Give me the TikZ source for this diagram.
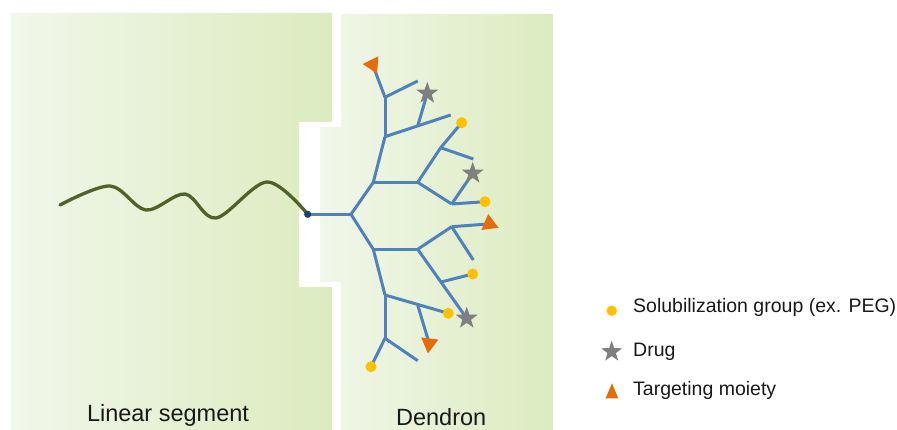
\documentclass[tikz,border=0pt]{standalone}
\usepackage{fontspec}
\setmainfont{Liberation Sans}
\usetikzlibrary{shapes.geometric}
\definecolor{brblue}{HTML}{4F81BD}
\definecolor{tgorange}{HTML}{E46C0A}
\definecolor{solyellow}{HTML}{FFC000}
\definecolor{druggray}{HTML}{7F7F7F}
\definecolor{olive}{HTML}{4F6228}
\definecolor{navydot}{HTML}{1F3F70}
\definecolor{panelL}{HTML}{F1F7EA}
\definecolor{panelR}{HTML}{DCEBBF}
\tikzset{
  br/.style={draw=brblue, line width=3pt},
  solcirc/.style={circle, fill=solyellow, inner sep=0pt, minimum size=11pt},
  drugstar/.style={star, star points=5, star point ratio=2.5, fill=druggray, inner sep=0pt, minimum size=23pt},
  tgtri/.style={regular polygon, regular polygon sides=3, fill=tgorange, inner sep=0pt, minimum size=20pt},
  lbl/.style={font=\fontsize{23.5}{28}\selectfont, inner sep=0pt, anchor=base, text=black!90},
  leg/.style={font=\fontsize{19.5}{24}\selectfont, inner sep=0pt, anchor=base west, text=black!90},
}
\begin{document}
\begin{tikzpicture}[x=1pt, y=-1pt]
\useasboundingbox (0,0) rectangle (897,430);
% panels
\shade[left color=panelL, right color=panelR]
  (11,13) -- (332,13) -- (332,122) -- (299,122) -- (299,287) -- (332,287) -- (332,430) -- (11,430) -- cycle;
\shade[left color=panelL, right color=panelR]
  (341,14) -- (553,14) -- (553,430) -- (341,430) -- (341,282) -- (320,282) -- (320,127) -- (341,127) -- cycle;

% linear segment (wave)
\coordinate (r) at (307.7,214.3);
\draw[olive, line width=3.3pt, line cap=round]
  plot[smooth, tension=0.55] coordinates {(60,205) (110,186) (146,210) (185,194) (216,218) (267,182) (r)};

% dendron coordinates
\coordinate (b0) at (351,214.3);
\coordinate (U) at (373.3,182.3);
\coordinate (U1) at (385,136.7);
\coordinate (U2) at (417.7,182.3);
\coordinate (U11) at (385,97.3);
\coordinate (U11e) at (417.7,81);
\coordinate (U12e) at (450.7,115);
\coordinate (U12b) at (417.7,126);
\coordinate (U21) at (440.7,147.7);
\coordinate (U21e) at (473.3,159);
\coordinate (U22) at (451.7,204);
\coordinate (L) at (373.3,249.3);
\coordinate (L1) at (417.7,249.3);
\coordinate (L2) at (385,295);
\coordinate (L11) at (451.7,226.7);
\coordinate (L11e) at (473.3,260);
\coordinate (L1b) at (441,282);
\coordinate (L2b) at (417.7,305);
\coordinate (L22) at (385,338.3);
\coordinate (L22e) at (417.7,360.7);

% end groups
\coordinate (s1) at (427.3,93.3);
\coordinate (s2) at (472.7,173.3);
\coordinate (s3) at (466.7,318.3);
\coordinate (c1) at (461.7,122.7);
\coordinate (c2) at (485,201.7);
\coordinate (c3) at (472.7,274);
\coordinate (c4) at (448.3,313.3);
\coordinate (c5) at (371,366.7);
\coordinate (t1) at (372.7,64.7);
\coordinate (t2) at (489.4,223.9);
\coordinate (t3) at (429.2,343.5);

% branches
\draw[br] (r) -- (b0);
\draw[br] (b0) -- (U);
\draw[br] (b0) -- (L);
\draw[br] (U) -- (U1);
\draw[br] (U) -- (U2);
\draw[br] (U1) -- (U11);
\draw[br] (U1) -- (U12e);
\draw[br] (U12b) -- (s1);
\draw[br] (U11) -- (t1);
\draw[br] (U11) -- (U11e);
\draw[br] (U2) -- (U21);
\draw[br] (U2) -- (U22);
\draw[br] (U21) -- (c1);
\draw[br] (U21) -- (U21e);
\draw[br] (U22) -- (c2);
\draw[br] (U22) -- (s2);
\draw[br] (L) -- (L1);
\draw[br] (L) -- (L2);
\draw[br] (L1) -- (L11);
\draw[br] (L1) -- (s3);
\draw[br] (L1b) -- (c3);
\draw[br] (L11) -- (t2);
\draw[br] (L11) -- (L11e);
\draw[br] (L2) -- (c4);
\draw[br] (L2b) -- (t3);
\draw[br] (L2) -- (L22);
\draw[br] (L22) -- (c5);
\draw[br] (L22) -- (L22e);

% root dot
\fill[navydot] (r) circle (3.6pt);

% terminal groups
\node[drugstar] (S1) at (s1) {};
\node[drugstar] (S2) at (s2) {};
\node[drugstar] (S3) at (s3) {};
\node[solcirc] (C1) at (c1) {};
\node[solcirc] (C2) at (c2) {};
\node[solcirc] (C3) at (c3) {};
\node[solcirc] (C4) at (c4) {};
\node[solcirc] (C5) at (c5) {};
\node[tgtri, rotate=86] (T1) at (t1) {};
\node[tgtri, rotate=7] (T2) at (t2) {};
\node[tgtri, rotate=173] (T3) at (t3) {};

% labels
\node[lbl] (linlbl) at (168,421) {Linear segment};
\node[lbl] (denlbl) at (441.2,425) {Dendron};

% legend
\node[solcirc, minimum size=10.5pt] (legc) at (611.7,310.7) {};
\node[leg] (legct) at (633,313) {Solubilization group (ex. PEG)};
\node[drugstar, minimum size=22pt] (legs) at (611.7,351.7) {};
\node[leg] (legst) at (633,356) {Drug};
\fill[tgorange] (612,383.3) -- (618.2,398.3) -- (605.6,398.3) -- cycle;
\node[leg] (legtt) at (633,395) {Targeting moiety};
\end{tikzpicture}
\end{document}
